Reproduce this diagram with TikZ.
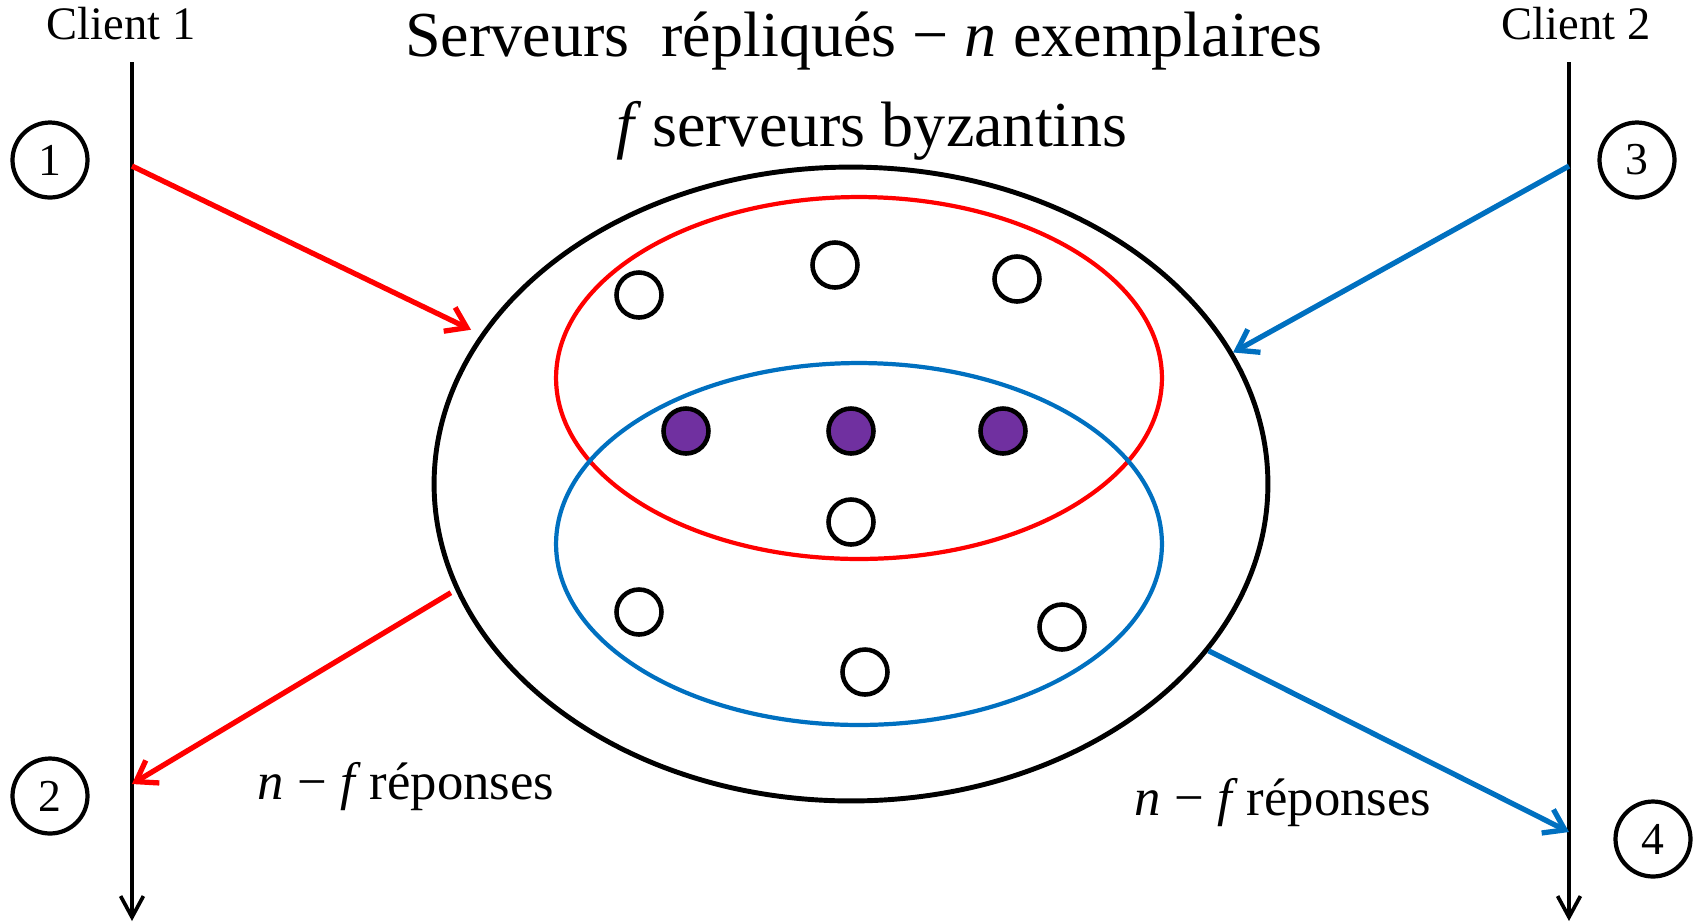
\documentclass[tikz,border=0pt]{standalone}
\usepackage{fontspec}
\setmainfont{Liberation Serif}
\usetikzlibrary{positioning,shapes.geometric,arrows.meta}
\definecolor{msred}{HTML}{FF0000}
\definecolor{msblue}{HTML}{0070C0}
\definecolor{mspurple}{HTML}{7030A0}

\begin{document}
\begin{tikzpicture}[x=0.02cm,y=-0.02cm,
    server/.style={circle,draw,line width=2.6pt,minimum size=0.9cm,inner sep=0pt},
    byzserver/.style={server,fill=mspurple},
    stepnum/.style={circle,draw,line width=2.4pt,minimum size=1.5cm,inner sep=0pt,font=\fontsize{26}{28}\selectfont},
    quorum/.style={ellipse,draw,line width=2.4pt,minimum width=12.12cm,minimum height=7.24cm},
    timeline/.style={line width=2.1pt,-{Straight Barb[length=12pt,width=13pt]}},
    msg/.style={line width=3pt,-{Straight Barb[length=11pt,width=15pt]}},
    label/.style={font=\fontsize{30}{32}\selectfont}
]
\useasboundingbox (0,0) rectangle (1698,921);

  % Client time lines
  \coordinate (c1top) at (132,62);
  \coordinate (c1bot) at (132,921);
  \coordinate (c2top) at (1569,62);
  \coordinate (c2bot) at (1569,921);
  \draw[timeline] (c1top) -- (c1bot);
  \draw[timeline] (c2top) -- (c2bot);
  \node[font=\fontsize{26.5}{28}\selectfont] (client1) at (121,24) {Client 1};
  \node[font=\fontsize{26.5}{28}\selectfont] (client2) at (1576,24) {Client 2};

  % Titles
  \node[font=\fontsize{36.5}{40}\selectfont] (title) at (864,41) {Serveurs\ \ répliqués − \textit{n} exemplaires};
  \node[font=\fontsize{36.5}{40}\selectfont] (byz) at (872,131) {\textit{f}\,serveurs byzantins};

  % Servers and quorums
  \node[ellipse,draw,line width=2.8pt,minimum width=16.68cm,minimum height=12.68cm] (cloud) at (851,484) {};
  \node[quorum,draw=msred] (q1) at (859,378) {};
  \node[quorum,draw=msblue] (q2) at (859,544) {};
  \node[server] (s1) at (639,295) {};
  \node[server] (s2) at (835,265) {};
  \node[server] (s3) at (1017,279) {};
  \node[byzserver] (b1) at (686,431) {};
  \node[byzserver] (b2) at (851,431) {};
  \node[byzserver] (b3) at (1003,431) {};
  \node[server] (s4) at (851,522) {};
  \node[server] (s5) at (639,612) {};
  \node[server] (s6) at (865,672) {};
  \node[server] (s7) at (1062,627) {};

  % Messages
  \coordinate (c1send) at (132,166);
  \coordinate (c1recv) at (132,784);
  \coordinate (c2send) at (1569,166);
  \coordinate (c2recv) at (1569,832);
  \draw[msg,msred,shorten >=6pt] (c1send) -- (cloud.158);
  \draw[msg,msblue] (c2send) -- (cloud.19);
  \draw[msg,msred,shorten <=3pt] (cloud.195) -- (c1recv);
  \draw[msg,msblue] (cloud.335) -- (c2recv);

  % Steps
  \node[stepnum] (n1) at (50,160) {1};
  \node[stepnum] (n2) at (50,796) {2};
  \node[stepnum] (n3) at (1637,160) {3};
  \node[stepnum] (n4) at (1653,839) {4};

  \node[label] (rep1) at (406,787) {\textit{n} − \textit{f}\,réponses};
  \node[label] (rep2) at (1283,803) {\textit{n} − \textit{f}\,réponses};
\end{tikzpicture}
\end{document}
